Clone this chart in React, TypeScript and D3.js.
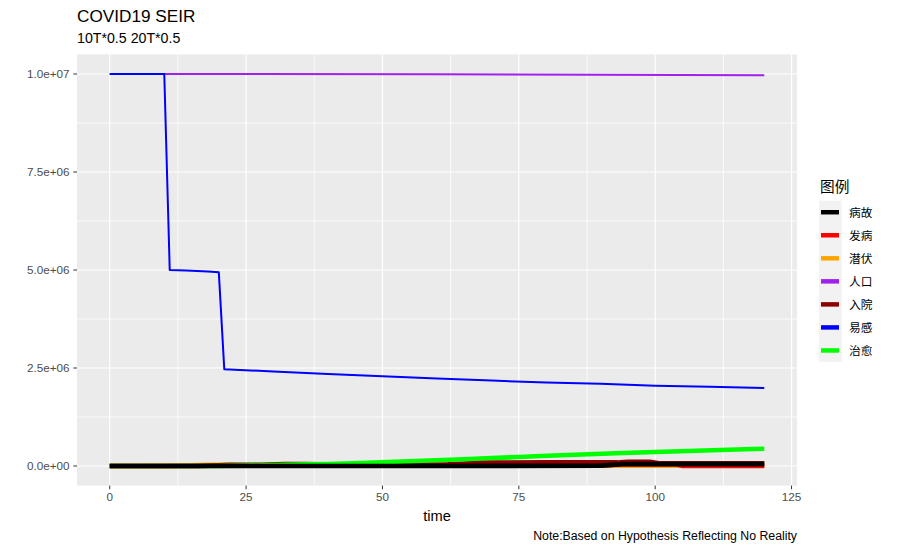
import React from 'react';
import * as d3 from 'd3';

// ---- data (day, value) ----
const deaths: [number, number][] = [[0, 0], [60, 0], [90, 8000], [94, 47000], [120, 50000]];
const onset: [number, number][] = [[0, 0], [15, 0], [20, 10000], [35, 20000], [60, 15000], [90, 8000], [94, 47000], [104, 47000], [105, 0], [120, 0]];
const latent: [number, number][] = [[0, 0], [10, 5000], [15, 15000], [18, 27000], [21, 27000], [24, 15000], [40, 12000], [80, 10000], [120, 8000]];
const population: [number, number][] = [[0, 10000000], [60, 9995000], [120, 9970000]];
const hospital: [number, number][] = [[0, 0], [16, 0], [20, 15000], [22, 27000], [28, 28000], [32, 50000], [36, 50000], [40, 35000], [50, 25000], [58, 35000], [62, 40000], [65, 64000], [68, 86000], [80, 90000], [93, 90000], [95, 105000], [99, 105000], [101, 65000], [120, 65000]];
const susceptible: [number, number][] = [[0, 10000000], [10, 10000000], [11, 5000000], [14, 4985000], [18, 4960000], [20, 4940000], [21, 2470000], [30, 2410000], [40, 2350000], [50, 2290000], [60, 2230000], [70, 2180000], [80, 2130000], [90, 2100000], [100, 2050000], [110, 2020000], [120, 1990000]];
const recovered: [number, number][] = [[0, 0], [20, 0], [25, 8000], [30, 25000], [36, 45000], [40, 51000], [46, 77000], [51, 102000], [56, 128000], [61, 153000], [66, 179000], [70, 204000], [75, 230000], [79, 255000], [84, 281000], [89, 306000], [94, 332000], [100, 357000], [106, 383000], [112, 408000], [118, 434000], [120, 440000]];

const legendLabels = ['病故', '发病', '潜伏', '人口', '入院', '易感', '治愈'];
const legendColors = ['#000000', '#FF0000', '#FFA500', '#A020F0', '#8B0000', '#0000FF', '#00FF00'];

const xMajor = [0, 25, 50, 75, 100, 125];
const xMinor = [12.5, 37.5, 62.5, 87.5, 112.5];
const yMajor = [0, 2500000, 5000000, 7500000, 10000000];
const yMinor = [1250000, 3750000, 6250000, 8750000];

const FONT = '"Liberation Sans", Arial, "Noto Sans CJK SC", sans-serif';

function sci(v: number): string {
  const s = d3.format('.1e')(v);
  const [m, e] = s.split('e');
  const sign = e[0];
  const digits = e.slice(1).padStart(2, '0');
  return `${m}e${sign}${digits}`;
}

export default function App() {
  const W = 900, H = 550;
  const pl = 77, pr = 797, pt = 54.4, pb = 485.6;
  const x = d3.scaleLinear().domain([-6, 126]).range([pl, pr]);
  const y = d3.scaleLinear().domain([-500000, 10500000]).range([pb, pt]);
  const line = d3.line<[number, number]>().x(d => x(d[0])).y(d => y(d[1]));

  // draw order (bottom -> top) with widths
  const layers: { data: [number, number][]; color: string; w: number }[] = [
    { data: population, color: legendColors[3], w: 2 },
    { data: susceptible, color: legendColors[5], w: 2 },
    { data: latent, color: legendColors[2], w: 4.7 },
    { data: onset, color: legendColors[1], w: 4.7 },
    { data: hospital, color: legendColors[4], w: 4.7 },
    { data: recovered, color: legendColors[6], w: 4.7 },
    { data: deaths, color: legendColors[0], w: 4.7 },
  ];

  const legX = 819, legY = 200.7, keyH = 23.04, keyW = 22.7;

  return (
    <svg width={W} height={H} style={{ position: 'absolute', left: 0, top: 0, background: '#fff' }} fontFamily={FONT}>
      <rect x={0} y={0} width={W} height={H} fill="#FFFFFF" />
      <text x={77} y={21.5} fontSize={17.2} fill="#000">COVID19 SEIR</text>
      <text x={77} y={43} fontSize={14.2} fill="#000">10T*0.5 20T*0.5</text>

      <rect x={pl} y={pt} width={pr - pl} height={pb - pt} fill="#EBEBEB" />
      {xMinor.map(v => <line key={'xm' + v} x1={x(v)} x2={x(v)} y1={pt} y2={pb} stroke="#fff" strokeWidth={0.8} />)}
      {yMinor.map(v => <line key={'ym' + v} y1={y(v)} y2={y(v)} x1={pl} x2={pr} stroke="#fff" strokeWidth={0.8} />)}
      {xMajor.map(v => <line key={'xM' + v} x1={x(v)} x2={x(v)} y1={pt} y2={pb} stroke="#fff" strokeWidth={1.2} />)}
      {yMajor.map(v => <line key={'yM' + v} y1={y(v)} y2={y(v)} x1={pl} x2={pr} stroke="#fff" strokeWidth={1.2} />)}

      <g clipPath="url(#clipP)">
        {layers.map((l, i) => (
          <path key={i} d={line(l.data) || ''} fill="none" stroke={l.color} strokeWidth={l.w} strokeLinejoin="round" strokeLinecap="butt" />
        ))}
      </g>
      <defs>
        <clipPath id="clipP"><rect x={pl} y={pt} width={pr - pl} height={pb - pt} /></clipPath>
      </defs>

      {/* axes */}
      {xMajor.map(v => (
        <g key={'xt' + v}>
          <line x1={x(v)} x2={x(v)} y1={pb} y2={pb + 3.67} stroke="#333" strokeWidth={1} />
          <text x={x(v)} y={501} fontSize={11.7} fill="#4D4D4D" textAnchor="middle">{v}</text>
        </g>
      ))}
      {yMajor.map(v => (
        <g key={'yt' + v}>
          <line x1={pl - 3.67} x2={pl} y1={y(v)} y2={y(v)} stroke="#333" strokeWidth={1} />
          <text x={69.5} y={y(v)} dy="0.36em" fontSize={11.7} fill="#4D4D4D" textAnchor="end">{sci(v)}</text>
        </g>
      ))}
      <text x={(pl + pr) / 2} y={521} fontSize={14.67} fill="#000" textAnchor="middle">time</text>
      <text x={797} y={540} fontSize={12.3} fill="#000" textAnchor="end">Note:Based on Hypothesis Reflecting No Reality</text>

      {/* legend */}
      <text x={820} y={192} fontSize={14.67} fill="#000">图例</text>
      {legendLabels.map((lab, i) => (
        <g key={lab}>
          <rect x={legX} y={legY + i * keyH} width={keyW} height={keyH} fill="#F2F2F2" />
          <line x1={legX + 2} x2={legX + keyW - 2.7} y1={legY + i * keyH + keyH / 2} y2={legY + i * keyH + keyH / 2} stroke={legendColors[i]} strokeWidth={4.5} />
          <text x={849} y={legY + i * keyH + keyH / 2} dy="0.38em" fontSize={11.7} fill="#000">{lab}</text>
        </g>
      ))}
    </svg>
  );
}
